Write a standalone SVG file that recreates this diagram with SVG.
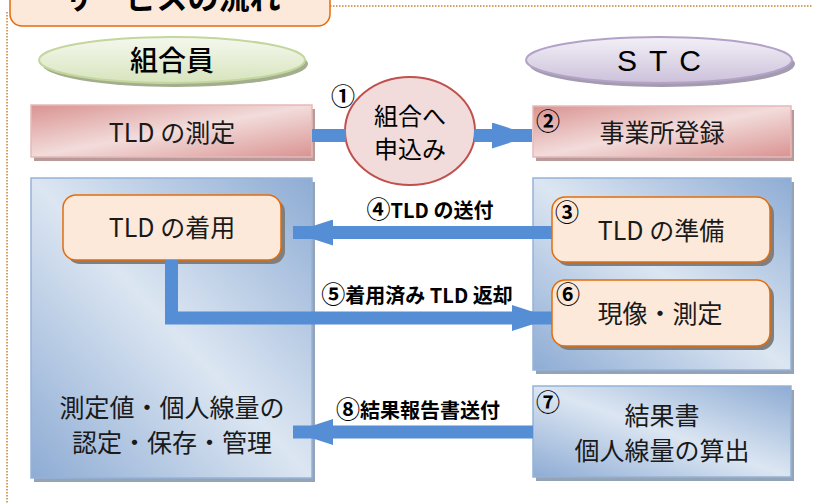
<svg xmlns="http://www.w3.org/2000/svg" width="813" height="504" viewBox="0 0 813 504">
<defs>
<linearGradient id="gBlue" x1="1" y1="0" x2="0" y2="1">
<stop offset="0" stop-color="#8EACD4"/><stop offset="0.5" stop-color="#DCE6F2"/><stop offset="1" stop-color="#8EACD4"/>
</linearGradient>
<linearGradient id="gPink" x1="0" y1="0" x2="1" y2="1">
<stop offset="0" stop-color="#D99391"/><stop offset="0.5" stop-color="#F2DCDB"/><stop offset="1" stop-color="#D99391"/>
</linearGradient>
<linearGradient id="gGreen" x1="0" y1="0" x2="0" y2="1">
<stop offset="0" stop-color="#F5F8EE"/><stop offset="1" stop-color="#D7E4BD"/>
</linearGradient>
<linearGradient id="gPurple" x1="0" y1="0" x2="0" y2="1">
<stop offset="0" stop-color="#F3F0F7"/><stop offset="1" stop-color="#CCC1DA"/>
</linearGradient>
<marker id="ah" viewBox="0 0 40 26" refX="40" refY="13" markerUnits="userSpaceOnUse" markerWidth="40" markerHeight="26" orient="auto">
<path d="M0,0 L40,13 L0,26 Z" fill="#558ED5"/>
</marker>
</defs>
<style>
text{font-family:"Noto Sans CJK JP","Noto Sans",sans-serif;fill:#1a1a1a}
.t{font-size:25px}
.lbl{font-size:20px;font-weight:bold;fill:#000}
.lbl tspan{font-size:24px}
.num{font-size:24px;font-weight:bold;fill:#000}
.blue{fill:url(#gBlue);stroke:#95B3D7;stroke-width:1.5}
.pink{fill:url(#gPink);stroke:#E6B9B8;stroke-width:1.5}
.orange{fill:#FDE9D9;stroke:#E46C0A;stroke-width:1.5}
.shB{fill:#94A3B6}
.shP{fill:#B89A9A}
.shO{fill:#7F7F7F}
.conn{fill:none;stroke:#558ED5;stroke-width:13}
</style>

<!-- frame and title -->
<g id="frame">
<path d="M330,6 H813" stroke="#C0843A" stroke-width="1.5" stroke-dasharray="1.5,1.5" fill="none"/>
<path d="M7,12 V504" stroke="#C0843A" stroke-width="1.5" stroke-dasharray="1.5,1.5" fill="none"/>
</g>
<g id="title">
<rect x="10" y="-20" width="320" height="46" rx="12" fill="#FDE9D9" stroke="#E46C0A" stroke-width="1.5"/>
<text x="172" y="9" text-anchor="middle" style="font-size:31px;font-weight:bold;fill:#000">サービスの流れ</text>
</g>

<!-- header ellipses -->
<g id="kumiaiin">
<ellipse cx="175" cy="64" rx="133" ry="23" fill="#A3AD8F"/>
<ellipse cx="172" cy="60" rx="133" ry="23" fill="url(#gGreen)" stroke="#C3D69B" stroke-width="2"/>
<text x="172" y="71" text-anchor="middle" style="font-size:28px;font-weight:500;fill:#000">組合員</text>
</g>
<g id="stc">
<ellipse cx="662" cy="64" rx="133" ry="23" fill="#A39BAE"/>
<ellipse cx="659" cy="60" rx="133" ry="23" fill="url(#gPurple)" stroke="#B3A2C7" stroke-width="2"/>
<text x="665" y="71" text-anchor="middle" style="font-size:30px;letter-spacing:12px;fill:#000;font-family:'Liberation Sans',sans-serif">STC</text>
</g>

<!-- left column -->
<g id="sokutei">
<rect x="34" y="109" width="281" height="52" class="shP"/>
<rect x="31" y="105" width="281" height="52" class="pink"/>
<text x="172" y="142" text-anchor="middle" class="t">TLD の測定</text>
</g>
<g id="kumiai-box">
<rect x="34" y="182" width="281" height="300" class="shB"/>
<rect x="31" y="178" width="281" height="300" class="blue"/>
<text x="172" y="417" text-anchor="middle" class="t">測定値・個人線量の</text>
<text x="172" y="452" text-anchor="middle" class="t">認定・保存・管理</text>
</g>
<g id="chakuyou">
<rect x="67" y="199" width="218" height="65" rx="13" class="shO"/>
<rect x="63" y="195" width="218" height="65" rx="13" class="orange"/>
<text x="172" y="237" text-anchor="middle" class="t">TLD の着用</text>
</g>

<!-- middle ellipse -->
<g id="moushikomi">
<ellipse cx="410" cy="131" rx="65" ry="54" fill="#F2DCDB" stroke="#C0504D" stroke-width="2"/>
<text x="410" y="125" text-anchor="middle" style="font-size:24px;fill:#000">組合へ</text>
<text x="410" y="158" text-anchor="middle" style="font-size:24px;fill:#000">申込み</text>
<text x="343" y="105" text-anchor="middle" class="num">①</text>
</g>

<!-- right column -->
<g id="touroku">
<rect x="536" y="110" width="258" height="51" class="shP"/>
<rect x="533" y="106" width="258" height="51" class="pink"/>
<text x="548" y="130" text-anchor="middle" class="num">②</text>
<text x="662" y="142" text-anchor="middle" class="t">事業所登録</text>
</g>
<g id="stc-box">
<rect x="536" y="182" width="258" height="192" class="shB"/>
<rect x="533" y="178" width="258" height="192" class="blue"/>
</g>
<g id="junbi">
<rect x="556" y="201" width="218" height="65" rx="13" class="shO"/>
<rect x="552" y="197" width="218" height="65" rx="13" class="orange"/>
<text x="567" y="221" text-anchor="middle" class="num">③</text>
<text x="661" y="240" text-anchor="middle" class="t">TLD の準備</text>
</g>
<g id="genzou">
<rect x="556" y="284" width="218" height="66" rx="13" class="shO"/>
<rect x="552" y="280" width="218" height="66" rx="13" class="orange"/>
<text x="568" y="303" text-anchor="middle" class="num">⑥</text>
<text x="660" y="323" text-anchor="middle" class="t">現像・測定</text>
</g>
<g id="kekka">
<rect x="536" y="390" width="258" height="91" class="shB"/>
<rect x="533" y="386" width="258" height="91" class="blue"/>
<text x="548" y="411" text-anchor="middle" class="num">⑦</text>
<text x="662" y="425" text-anchor="middle" class="t">結果書</text>
<text x="662" y="460" text-anchor="middle" class="t">個人線量の算出</text>
</g>

<!-- connectors -->
<g id="connectors">
<path class="conn" d="M312,135.5 H346"/>
<path class="conn" d="M474,135.5 H532" marker-end="url(#ah)"/>
<path class="conn" d="M552,232.5 H293" marker-end="url(#ah)"/>
<path class="conn" d="M171.5,260 V318 H552" marker-end="url(#ah)"/>
<path class="conn" d="M533,432 H293" marker-end="url(#ah)"/>
<text x="430" y="218" text-anchor="middle" class="lbl"><tspan>④</tspan>TLD の送付</text>
<text x="417" y="303" text-anchor="middle" class="lbl"><tspan>⑤</tspan>着用済み TLD 返却</text>
<text x="418" y="418" text-anchor="middle" class="lbl"><tspan>⑧</tspan>結果報告書送付</text>
</g>
</svg>
